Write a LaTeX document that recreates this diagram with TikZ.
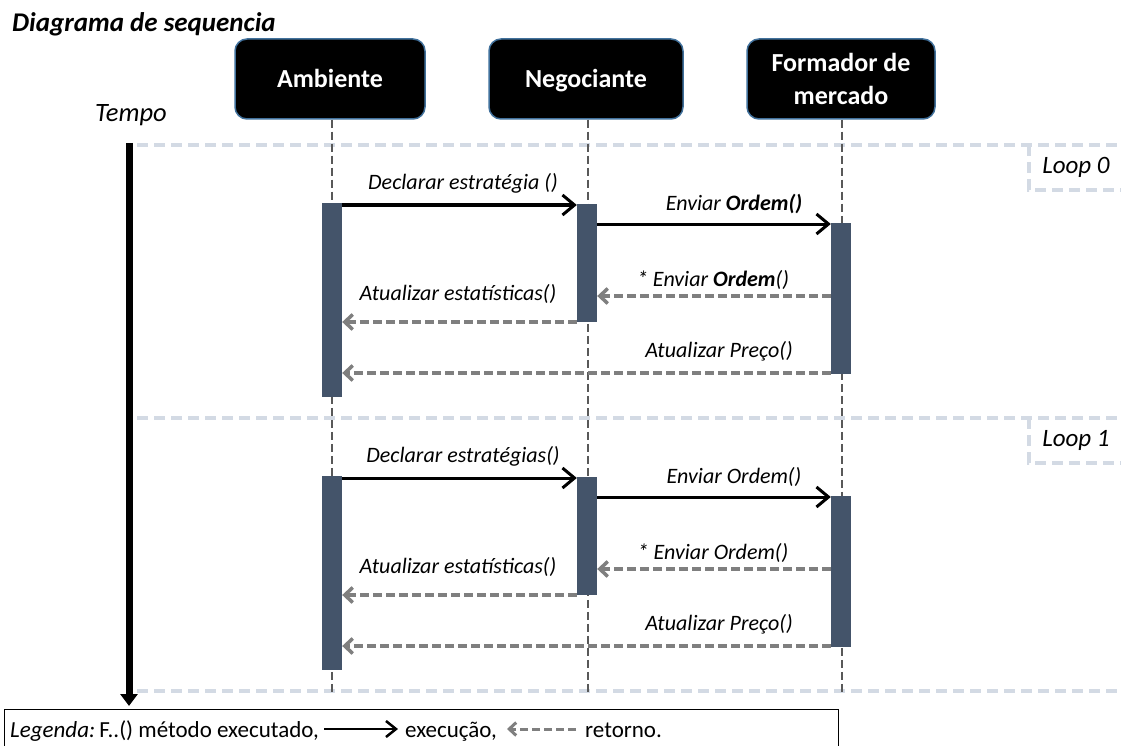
\documentclass[tikz,border=0pt]{standalone}
\usepackage{fontspec}
\setmainfont{Carlito}
\usetikzlibrary{arrows.meta,calc}
\definecolor{barcol}{HTML}{44546A}
\definecolor{hdrborder}{HTML}{41719C}
\definecolor{lifecol}{HTML}{595959}
\definecolor{retcol}{HTML}{7F7F7F}
\definecolor{loopcol}{HTML}{D3DAE4}
\tikzset{
  header/.style={draw=hdrborder, line width=1.5pt, fill=black, rounded corners=12pt,
    minimum width=190pt, minimum height=80pt, text=white,
    font=\fontsize{26}{33}\selectfont\bfseries, align=center, inner sep=2pt},
  oneline/.style={text height=17pt, text depth=0pt},
  bar/.style={fill=barcol, minimum width=20pt, inner sep=0pt, draw=none},
  lifeline/.style={draw=lifecol, line width=2.5pt, dash pattern=on 8pt off 4pt},
  call/.style={draw=black, line width=3pt,
    -{Straight Barb[length=12pt,width=20pt,line width=3pt]}},
  ret/.style={draw=retcol, line width=3.5pt, dash pattern=on 9pt off 4pt,
    -{Straight Barb[length=8pt,width=15pt,line width=3.5pt]}},
  lbl/.style={font=\fontsize{22}{26}\selectfont\itshape, inner sep=0pt},
  loopline/.style={draw=loopcol, line width=4pt, dash pattern=on 11pt off 6pt},
  looplbl/.style={font=\fontsize{25}{30}\selectfont\itshape, inner sep=0pt},
  legtext/.style={font=\fontsize{23}{28}\selectfont, inner sep=0pt, anchor=base west},
  legcall/.style={draw=black, line width=2.5pt,
    -{Straight Barb[length=10pt,width=16pt,line width=2.5pt]}},
  legret/.style={draw=retcol, line width=3pt, dash pattern=on 8pt off 4pt,
    -{Straight Barb[length=7pt,width=13pt,line width=3pt]}},
  timearrow/.style={draw=black, line width=7pt, -{Triangle[length=12pt,width=17pt]}}
}
\begin{document}
\begin{tikzpicture}[x=1pt,y=-1pt]
\useasboundingbox (0,0) rectangle (1121,746);

% title and time label
\node[anchor=base west, inner sep=0pt, font=\fontsize{27}{32}\selectfont\bfseries\itshape] (title) at (12,32) {Diagrama de sequencia};
\node[anchor=base west, inner sep=0pt, font=\fontsize{26.5}{30}\selectfont\itshape] (tempo) at (95,122) {Tempo};

% loop frames
\coordinate (LT0) at (137,145);
\coordinate (LT1) at (1121,145);
\coordinate (LM0) at (137,418);
\coordinate (LM1) at (1121,418);
\coordinate (LB0) at (137,691);
\coordinate (LB1) at (1121,691);
\draw[loopline] (LT0) -- (LT1);
\draw[loopline] (LM0) -- (LM1);
\draw[loopline] (LB0) -- (LB1);
\coordinate (K0a) at (1029,145);
\coordinate (K0b) at (1029,190);
\coordinate (K0c) at (1121,190);
\draw[loopline] (K0a) -- (K0b) -- (K0c);
\coordinate (K1a) at (1029,418);
\coordinate (K1b) at (1029,463);
\coordinate (K1c) at (1121,463);
\draw[loopline] (K1a) -- (K1b) -- (K1c);
\node[looplbl] (loop0) at (1076,167) {Loop 0};
\node[looplbl] (loop1) at (1076,440) {Loop 1};

% time arrow
\coordinate (T0) at (129,143);
\coordinate (T1) at (129,706);
\draw[timearrow] (T0) -- (T1);

% headers
\node[header, oneline] (HA) at (330,79) {Ambiente};
\node[header, oneline, minimum width=194pt] (HN) at (586,79) {Negociante};
\node[header, minimum width=188pt] (HF) at (841,79) {Formador de\\mercado};

% lifelines
\coordinate (LA) at (332,694);
\coordinate (LN) at (588,694);
\coordinate (LF) at (842,694);
\draw[lifeline] (HA.south -| LA) -- (LA);
\draw[lifeline] (HN.south -| LN) -- (LN);
\draw[lifeline] (HF.south -| LF) -- (LF);

% activation bars, loop 0
\node[bar, minimum height=194pt] (A0) at (332,300) {};
\node[bar, minimum height=118pt] (N0) at (587,263) {};
\node[bar, minimum height=151pt] (F0) at (841,298.5) {};
% activation bars, loop 1
\node[bar, minimum height=194pt] (A1) at (332,573) {};
\node[bar, minimum height=118pt] (N1) at (587,536) {};
\node[bar, minimum height=151pt] (F1) at (841,571.5) {};

% messages, loop 0
\draw[call] (A0.east |- 0,205) -- (N0.west |- 0,205);
\node[lbl] (m01) at (463,183) {Declarar estratégia ()};
\draw[call] (N0.east |- 0,224) -- (F0.west |- 0,224);
\node[lbl] (m02) at (734,204) {Enviar \textbf{Ordem()}};
\draw[ret] (F0.west |- 0,296) -- (N0.east |- 0,296);
\node[lbl] (m03) at (713,280) {* Enviar \textbf{Ordem}()};
\draw[ret] (N0.west |- 0,322) -- (A0.east |- 0,322);
\node[lbl] (m04) at (458,294) {Atualizar estatísticas()};
\draw[ret] (F0.west |- 0,373) -- (A0.east |- 0,373);
\node[lbl] (m05) at (719,351) {Atualizar Preço()};

% messages, loop 1
\draw[call] (A1.east |- 0,478) -- (N1.west |- 0,478);
\node[lbl] (m11) at (463,456) {Declarar estratégias()};
\draw[call] (N1.east |- 0,497) -- (F1.west |- 0,497);
\node[lbl] (m12) at (734,477) {Enviar Ordem()};
\draw[ret] (F1.west |- 0,569) -- (N1.east |- 0,569);
\node[lbl] (m13) at (713,553) {* Enviar Ordem()};
\draw[ret] (N1.west |- 0,595) -- (A1.east |- 0,595);
\node[lbl] (m14) at (458,567) {Atualizar estatísticas()};
\draw[ret] (F1.west |- 0,646) -- (A1.east |- 0,646);
\node[lbl] (m15) at (719,624) {Atualizar Preço()};

% legend
\node[draw=black, line width=1.2pt, anchor=north west, inner sep=0pt,
      minimum width=834pt, minimum height=40pt] (legend) at (4,709) {};
\node[legtext] (lg1) at (10,737) {\textit{Legenda:}\hspace{4pt}F..() método executado,};
\coordinate (la1) at (324,729);
\coordinate (la2) at (398,729);
\draw[legcall] (la1) -- (la2);
\node[legtext] (lg2) at (405,737) {execução,};
\coordinate (lb1) at (576,729);
\coordinate (lb2) at (507,729);
\draw[legret] (lb1) -- (lb2);
\node[legtext] (lg3) at (585,737) {retorno.};
\end{tikzpicture}
\end{document}
